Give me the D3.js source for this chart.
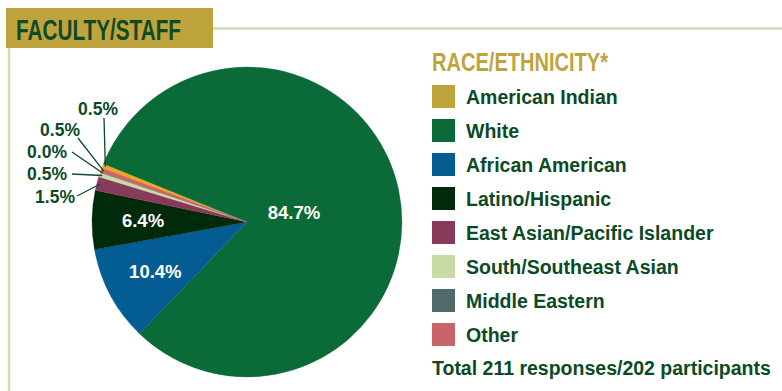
<!DOCTYPE html>
<html>
<head>
<meta charset="utf-8">
<script src="https://cdn.jsdelivr.net/npm/d3@7"></script>
<style>
  html, body { margin: 0; padding: 0; background: #fff; }
  svg { display: block; }
</style>
</head>
<body>
<div id="chart"></div>
<script>
// data (percent of 202 participants)
const categories = ["American Indian", "White", "African American", "Latino/Hispanic",
  "East Asian/Pacific Islander", "South/Southeast Asian", "Middle Eastern", "Other"];
const values = [0.5, 84.7, 10.4, 6.4, 1.5, 0.5, 0.0, 0.5];
const legendColors = ["#bfa43e", "#0b6b38", "#035c92", "#012a0b", "#873a5a", "#c6dba6", "#4f6a6b", "#c9646a"];
const pieColors = ["#f2a61f", "#0b6b38", "#035c92", "#012a0b", "#873a5a", "#c6dba6", "#4f6a6b", "#c9646a"];
const title = "FACULTY/STAFF";
const legendTitle = "RACE/ETHNICITY*";
const totalNote = "Total 211 responses/202 participants";

const W = 782, H = 391;
const textGreen = "#0b4a26";
const gold = "#bfa43e";
const frame = "#cde0b0";

const svg = d3.select("#chart").append("svg")
  .attr("width", W).attr("height", H)
  .attr("viewBox", `0 0 ${W} ${H}`);

// frame lines
svg.append("line").attr("x1", 213).attr("x2", W).attr("y1", 28.5).attr("y2", 28.5)
  .attr("stroke", frame).attr("stroke-width", 2.5);
svg.append("line").attr("x1", 9).attr("x2", 9).attr("y1", 48).attr("y2", H)
  .attr("stroke", frame).attr("stroke-width", 2.5);

// title block
svg.append("rect").attr("x", 6).attr("y", 8).attr("width", 207).attr("height", 40).attr("fill", gold);
svg.append("text")
  .attr("x", 16).attr("y", 40)
  .attr("font-family", "'Liberation Sans Narrow', 'Liberation Sans', Arial, sans-serif")
  .attr("font-weight", "bold").attr("font-size", 29)
  .attr("fill", "#0e4a22")
  .attr("textLength", 165).attr("lengthAdjust", "spacingAndGlyphs")
  .text(title);

// pie
const cx = 247, cy = 222, r = 155;
const startAngle = -69.6 * Math.PI / 180;
const pie = d3.pie().sort(null).value(d => d.value)
  .startAngle(startAngle).endAngle(startAngle + 2 * Math.PI);
const arcs = pie(categories.map((c, i) => ({ cat: c, value: values[i], i })));
const arc = d3.arc().innerRadius(0).outerRadius(r);

const g = svg.append("g").attr("transform", `translate(${cx},${cy})`);
g.selectAll("path.slice").data(arcs).enter().append("path")
  .attr("class", "slice")
  .attr("d", arc)
  .attr("fill", d => pieColors[d.data.i])
  .attr("stroke", d => pieColors[d.data.i])
  .attr("stroke-width", 0.3);

// inside labels for the big slices
const labelFont = "'Liberation Sans', Arial, Helvetica, sans-serif";
const fmt = v => v.toFixed(1) + "%";
const big = arcs.filter(d => d.data.value >= 5);
g.selectAll("text.inner").data(big).enter().append("text")
  .attr("class", "inner")
  .attr("transform", d => {
    const lr = d.data.value > 50 ? 48 : 104;
    const c = d3.arc().innerRadius(lr).outerRadius(lr).centroid(d);
    return `translate(${c[0]},${c[1]})`;
  })
  .attr("text-anchor", "middle").attr("dy", "0.35em")
  .attr("font-family", labelFont).attr("font-weight", "bold").attr("font-size", 18.5)
  .attr("fill", "#fff")
  .text(d => fmt(d.data.value));

// outside labels with leader lines for the small slices, stacked top to bottom
const edge = d3.arc().innerRadius(r - 3).outerRadius(r - 3);
const small = arcs.filter(d => d.data.value < 5)
  .map(d => ({ d, e: edge.centroid(d) }))
  .sort((a, b) => a.e[1] - b.e[1]);
const slots = [
  { tx: 118, ty: 115, lx: 104, ly: 118 },
  { tx: 80,  ty: 136, lx: 78,  ly: 138 },
  { tx: 67,  ty: 158, lx: 72,  ly: 152 },
  { tx: 67,  ty: 180, lx: 72,  ly: 174 },
  { tx: 75,  ty: 203, lx: 77,  ly: 196 }
];
small.forEach((o, k) => {
  const s = slots[k];
  svg.append("line")
    .attr("x1", s.lx).attr("y1", s.ly)
    .attr("x2", cx + o.e[0]).attr("y2", cy + o.e[1])
    .attr("stroke", textGreen).attr("stroke-width", 1.3);
  svg.append("text")
    .attr("x", s.tx).attr("y", s.ty)
    .attr("text-anchor", "end")
    .attr("font-family", labelFont).attr("font-weight", "bold").attr("font-size", 17.5)
    .attr("fill", textGreen)
    .text(fmt(o.d.data.value));
});

// legend
const lx = 432;
svg.append("text")
  .attr("x", lx).attr("y", 71)
  .attr("font-family", "'Liberation Sans Narrow', 'Liberation Sans', Arial, sans-serif")
  .attr("font-weight", "bold").attr("font-size", 26)
  .attr("fill", gold)
  .attr("textLength", 176).attr("lengthAdjust", "spacingAndGlyphs")
  .text(legendTitle);

const rowY = d3.scalePoint().domain(categories).range([85, 85 + 34 * 7]);
const items = svg.selectAll("g.legend-item").data(categories).enter().append("g")
  .attr("class", "legend-item")
  .attr("transform", d => `translate(${lx},${rowY(d)})`);
items.append("rect")
  .attr("width", 23).attr("height", 23)
  .attr("fill", (d, i) => legendColors[i]);
items.append("text")
  .attr("x", 34).attr("y", 19)
  .attr("font-family", labelFont).attr("font-weight", "bold").attr("font-size", 19.5)
  .attr("fill", textGreen)
  .text(d => d);

svg.append("text")
  .attr("x", lx).attr("y", 375)
  .attr("font-family", labelFont).attr("font-weight", "bold").attr("font-size", 19.5)
  .attr("fill", textGreen)
  .text(totalNote);
</script>
</body>
</html>
